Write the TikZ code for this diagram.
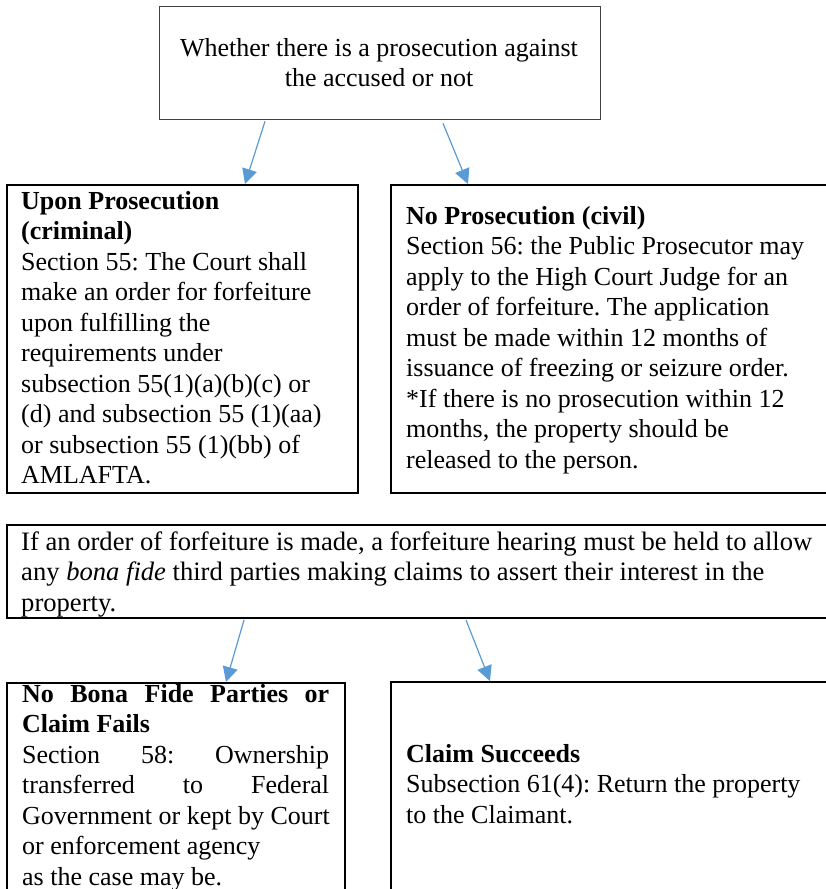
\documentclass[tikz,border=0pt]{standalone}
\usepackage{fontspec}
\setmainfont{Liberation Serif}
\usetikzlibrary{arrows.meta}
\frenchspacing
\tikzset{
  boxthick/.style={draw=black, line width=2pt, rectangle, inner sep=0pt, anchor=north west},
  boxthin/.style={draw=black!75, line width=1.3pt, rectangle, inner sep=0pt, anchor=north west},
  txt/.style={inner sep=0pt, anchor=base west, font=\fontsize{26}{30.5}\selectfont},
  txtc/.style={inner sep=0pt, anchor=base, font=\fontsize{26}{30.5}\selectfont},
  conn/.style={draw={rgb,255:red,91;green,155;blue,213}, line width=1.2pt,
    -{Triangle[length=15pt,width=15pt]}}
}
\begin{document}
\begin{tikzpicture}[x=1pt,y=-1pt]
\useasboundingbox (0,0) rectangle (826,889);
\clip (0,0) rectangle (826,889);
\fill[white] (0,0) rectangle (826,889);
% boxes
\node[boxthin, minimum width=441pt, minimum height=113pt] (top) at (159,6) {};
\node[boxthick, minimum width=351pt, minimum height=308pt] (ul) at (6,184) {};
\node[boxthick, minimum width=450pt, minimum height=308pt] (ur) at (390,184) {};
\node[boxthick, minimum width=840pt, minimum height=93pt] (mid) at (6,524) {};
\node[boxthick, minimum width=338pt, minimum height=230pt] (bl) at (6,682) {};
\node[boxthick, minimum width=450pt, minimum height=230pt] (br) at (390,681) {};
% texts
\node[txtc] (ttop) at (379,56) {\begin{tabular}[t]{@{}c@{}}Whether there is a prosecution against\\the accused or not\end{tabular}};
\node[txt] (tul) at (21,209) {\begin{tabular}[t]{@{}l@{}}\textbf{Upon Prosecution}\\\textbf{(criminal)}\\Section 55: The Court shall\\make an order for forfeiture\\upon fulfilling the\\requirements under\\subsection 55(1)(a)(b)(c) or\\(d) and subsection 55 (1)(aa)\\or subsection 55 (1)(bb) of\\AMLAFTA.\end{tabular}};
\node[txt] (tur) at (406,224) {\begin{tabular}[t]{@{}l@{}}\textbf{No Prosecution (civil)}\\Section 56: the Public Prosecutor may\\apply to the High Court Judge for an\\order of forfeiture. The application\\must be made within 12 months of\\issuance of freezing or seizure order.\\{*}If there is no prosecution within 12\\months, the property should be\\released to the person.\end{tabular}};
\node[txt, font=\fontsize{26.6}{30.5}\selectfont] (tmid) at (21,550) {\begin{tabular}[t]{@{}l@{}}If an order of forfeiture is made, a forfeiture hearing must be held to allow\\any \textit{bona fide} third parties making claims to assert their interest in the\\property.\end{tabular}};
\node[txt] (tbl) at (22,702) {\begin{tabular}[t]{@{}l@{}}\makebox[307pt][s]{\textbf{No Bona Fide Parties or}}\\\textbf{Claim Fails}\\\makebox[307pt][s]{Section 58: Ownership}\\\makebox[307pt][s]{transferred to Federal}\\Government or kept by Court\\or enforcement agency\\as the case may be.\end{tabular}};
\node[txt] (tbr) at (406,762) {\begin{tabular}[t]{@{}l@{}}\textbf{Claim Succeeds}\\Subsection 61(4): Return the property\\to the Claimant.\end{tabular}};
% connectors
\draw[conn] ([xshift=106pt,yshift=-1pt]top.south west) -- ([xshift=239pt]ul.north west);
\draw[conn] ([xshift=284pt,yshift=-3pt]top.south west) -- ([xshift=78pt]ur.north west);
\draw[conn] ([xshift=238pt,yshift=-1pt]mid.south west) -- ([xshift=220pt]bl.north west);
\draw[conn] ([xshift=460pt,yshift=-1pt]mid.south west) -- ([xshift=100pt]br.north west);
\end{tikzpicture}
\end{document}
